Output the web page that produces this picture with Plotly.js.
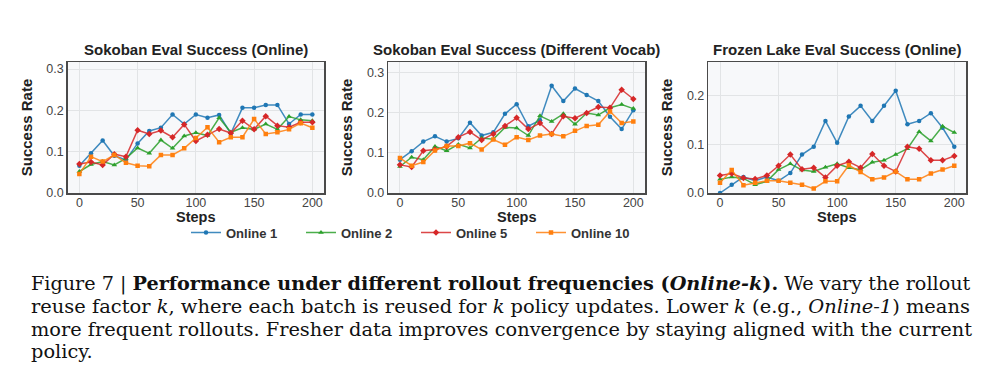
<!DOCTYPE html>
<html>
<head>
<meta charset="utf-8">
<script src="https://cdn.plot.ly/plotly-3.0.1.min.js"></script>
<style>html,body{margin:0;padding:0;background:#fff;}#chart{width:991px;height:392px;}</style>
</head>
<body>
<div id="chart"></div>
<script>
// ---- data ----
const steps = [0,10,20,30,40,50,60,70,80,90,100,110,120,130,140,150,160,170,180,190,200];
const seriesNames = ["Online 1","Online 2","Online 5","Online 10"];
const panelTitles = ["Sokoban Eval Success (Online)","Sokoban Eval Success (Different Vocab)","Frozen Lake Eval Success (Online)"];
const xAxisTitle = "Steps";
const yAxisTitle = "Success Rate";
const xTickVals = [0,50,100,150,200];
const xTickText = ["0","50","100","150","200"];
const yTickVals = [0,0.1,0.2,0.3];
const yTickText = ["0.0","0.1","0.2","0.3"];

// Sokoban (Online)
const sokOnline1  = [0.066,0.096,0.127,0.090,0.080,0.120,0.150,0.158,0.190,0.167,0.190,0.182,0.189,0.144,0.206,0.206,0.213,0.213,0.167,0.190,0.190];
const sokOnline2  = [0.052,0.069,0.076,0.068,0.084,0.109,0.096,0.128,0.108,0.138,0.146,0.139,0.182,0.147,0.158,0.154,0.167,0.154,0.185,0.177,0.175];
const sokOnline5  = [0.070,0.075,0.068,0.094,0.088,0.152,0.143,0.151,0.135,0.166,0.126,0.141,0.155,0.145,0.175,0.154,0.186,0.163,0.159,0.171,0.171];
const sokOnline10 = [0.046,0.088,0.076,0.092,0.073,0.066,0.065,0.092,0.092,0.108,0.133,0.159,0.123,0.135,0.135,0.179,0.143,0.147,0.154,0.169,0.158];

// Sokoban (Different Vocab)
const vocOnline1  = [0.083,0.104,0.128,0.141,0.128,0.136,0.175,0.143,0.151,0.197,0.221,0.166,0.181,0.267,0.229,0.260,0.244,0.229,0.190,0.159,0.206];
const vocOnline2  = [0.066,0.089,0.083,0.116,0.105,0.121,0.112,0.137,0.134,0.163,0.162,0.143,0.192,0.178,0.197,0.171,0.199,0.194,0.212,0.220,0.210];
const vocOnline5  = [0.070,0.065,0.105,0.108,0.116,0.139,0.152,0.132,0.147,0.167,0.187,0.159,0.174,0.147,0.191,0.186,0.199,0.214,0.212,0.257,0.234];
const vocOnline10 = [0.087,0.068,0.077,0.106,0.117,0.117,0.124,0.108,0.133,0.120,0.139,0.132,0.143,0.147,0.141,0.155,0.167,0.170,0.203,0.174,0.178];

// Frozen Lake (Online)
const flOnline1  = [0.000,0.017,0.033,0.025,0.033,0.025,0.041,0.079,0.095,0.148,0.103,0.157,0.179,0.148,0.179,0.210,0.141,0.148,0.164,0.134,0.095];
const flOnline2  = [0.028,0.033,0.030,0.017,0.024,0.048,0.060,0.047,0.044,0.053,0.060,0.052,0.048,0.063,0.067,0.079,0.091,0.126,0.107,0.137,0.124];
const flOnline5  = [0.036,0.040,0.031,0.029,0.036,0.056,0.079,0.049,0.052,0.032,0.056,0.064,0.052,0.080,0.056,0.044,0.095,0.091,0.067,0.067,0.076];
const flOnline10 = [0.021,0.047,0.016,0.021,0.025,0.025,0.021,0.017,0.009,0.024,0.024,0.057,0.043,0.028,0.032,0.044,0.028,0.028,0.040,0.048,0.056];

const panels = [
  [sokOnline1, sokOnline2, sokOnline5, sokOnline10],
  [vocOnline1, vocOnline2, vocOnline5, vocOnline10],
  [flOnline1, flOnline2, flOnline5, flOnline10]
];

const captionLines = [
  "Figure 7 | <b>Performance under different rollout frequencies (<i>Online-k</i>).</b> We vary the rollout",
  "reuse factor <i>k</i>, where each batch is reused for <i>k</i> policy updates. Lower <i>k</i> (e.g., <i>Online-1</i>) means",
  "more frequent rollouts. Fresher data improves convergence by staying aligned with the current",
  "policy."
];

// ---- styles ----
const lineColors = ["rgba(31,119,180,0.85)","rgba(44,160,44,0.85)","rgba(214,39,40,0.85)","rgba(255,127,14,0.85)"];
const markerColors = ["#1f77b4","#2ca02c","#d62728","#ff7f0e"];
const symbols = ["circle","triangle-up","diamond","square"];
const msizes = [4.5,5,5,4.5];

const traces = [];
panels.forEach((series, p) => {
  series.forEach((vals, s) => {
    traces.push({
      type: "scatter", mode: "lines+markers",
      x: steps, y: vals,
      name: seriesNames[s],
      legendgroup: seriesNames[s],
      showlegend: p === 0,
      xaxis: p === 0 ? "x" : "x" + (p + 1),
      yaxis: p === 0 ? "y" : "y" + (p + 1),
      line: {color: lineColors[s], width: 1.5},
      marker: {color: markerColors[s], symbol: symbols[s], size: msizes[s]}
    });
  });
});

const W = 991, H = 392;
const px = v => v / W, py = v => 1 - v / H;
const boxes = [
  {l: 67.7, r: 324, t: 62, b: 193, ymax: 0.317},
  {l: 388.3, r: 645, t: 62, b: 193, ymax: 0.326},
  {l: 708.3, r: 966, t: 62, b: 193, ymax: 0.269}
];

const sans = "Liberation Sans, Arial, sans-serif";
const tickFont = {family: sans, size: 12.5, color: "#444"};
const titleFont = {family: sans, size: 15, color: "#222"};
const xTitleFont = {family: sans, size: 14.5, color: "#222"};

const layout = {
  width: W, height: H,
  margin: {l: 0, r: 0, t: 0, b: 0},
  paper_bgcolor: "#ffffff",
  plot_bgcolor: "#f7f8fa",
  showlegend: true,
  legend: {
    orientation: "h", x: px(186), xanchor: "left", y: py(232.5), yanchor: "middle",
    entrywidth: 70, entrywidthmode: "pixels",
    font: {family: sans, size: 13, color: "#333", weight: "bold"},
    bgcolor: "rgba(0,0,0,0)"
  },
  annotations: []
};

boxes.forEach((b, i) => {
  const sx = i === 0 ? "" : String(i + 1);
  layout["xaxis" + sx] = {
    domain: [px(b.l), px(b.r)], range: [-10, 210], anchor: "y" + sx,
    tickvals: xTickVals, ticktext: xTickText, ticks: "", tickfont: tickFont,
    ticklabelstandoff: -3,
    showgrid: true, gridcolor: "#e2e4e6", gridwidth: 1, zeroline: false,
    showline: true, mirror: true, linecolor: "#4a4a4a", linewidth: 1.5
  };
  layout["yaxis" + sx] = {
    domain: [py(b.b), py(b.t)], range: [0, b.ymax], anchor: "x" + sx,
    tickvals: yTickVals, ticktext: yTickText, ticks: "", tickfont: tickFont,
    showgrid: true, gridcolor: "#e2e4e6", gridwidth: 1, zeroline: false,
    showline: true, mirror: true, linecolor: "#4a4a4a", linewidth: 1.5,
    title: {text: "<b>" + yAxisTitle + "</b>", font: titleFont, standoff: 10}
  };
  // x axis title (placed tight under tick labels, as in the reference)
  layout.annotations.push({
    text: "<b>" + xAxisTitle + "</b>",
    xref: "paper", yref: "paper", x: px((b.l + b.r) / 2), y: py(216.5),
    xanchor: "center", yanchor: "middle", showarrow: false, borderpad: 0, font: xTitleFont
  });
  layout.annotations.push({
    text: "<b>" + panelTitles[i] + "</b>",
    xref: "paper", yref: "paper", x: px((b.l + b.r) / 2), y: py(49),
    xanchor: "center", yanchor: "middle", showarrow: false,
    font: {family: sans, size: 15, color: "#222"}
  });
});

const captionY = [283, 306, 329, 351];
const captionSize = [19.2, 19.45, 19.35, 19.35];
captionLines.forEach((t, i) => {
  layout.annotations.push({
    text: t, xref: "paper", yref: "paper", x: px(29), y: py(captionY[i]),
    xanchor: "left", yanchor: "middle", align: "left", showarrow: false,
    font: {family: "DejaVu Serif, serif", size: captionSize[i], color: "#111"}
  });
});

Plotly.newPlot("chart", traces, layout, {displayModeBar: false, staticPlot: true});
</script>
</body>
</html>
